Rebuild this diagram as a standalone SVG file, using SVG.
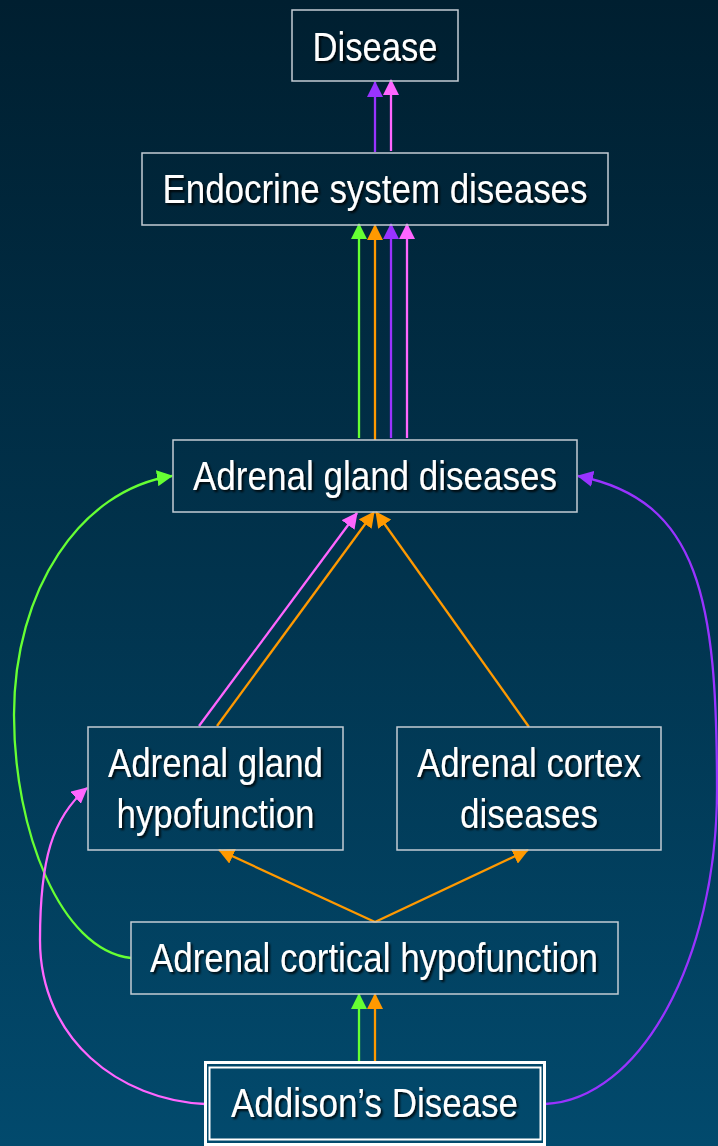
<svg xmlns="http://www.w3.org/2000/svg" width="718" height="1146" viewBox="0 0 718 1146">
<defs>
<linearGradient id="bg" x1="0" y1="0" x2="0" y2="1">
<stop offset="0" stop-color="#001f30"/>
<stop offset="0.5" stop-color="#01334d"/>
<stop offset="1" stop-color="#024a6d"/>
</linearGradient>
<filter id="sh" x="-10%" y="-30%" width="120%" height="160%">
<feDropShadow dx="2" dy="2" stdDeviation="0.8" flood-color="#000" flood-opacity="0.85"/>
</filter>
<marker id="aG" markerUnits="userSpaceOnUse" markerWidth="16" markerHeight="16" viewBox="0 0 16 16" refX="15" refY="8" orient="auto"><path d="M0,0 L16,8 L0,16 z" fill="#66ff33"/></marker>
<marker id="aO" markerUnits="userSpaceOnUse" markerWidth="16" markerHeight="16" viewBox="0 0 16 16" refX="15" refY="8" orient="auto"><path d="M0,0 L16,8 L0,16 z" fill="#ff9900"/></marker>
<marker id="aP" markerUnits="userSpaceOnUse" markerWidth="16" markerHeight="16" viewBox="0 0 16 16" refX="15" refY="8" orient="auto"><path d="M0,0 L16,8 L0,16 z" fill="#9933ff"/></marker>
<marker id="aK" markerUnits="userSpaceOnUse" markerWidth="16" markerHeight="16" viewBox="0 0 16 16" refX="15" refY="8" orient="auto"><path d="M0,0 L16,8 L0,16 z" fill="#ff66ff"/></marker>
</defs>
<style>
.box{fill:none;stroke:#c3ccd4;stroke-width:1.5}
.t{font-family:"Liberation Sans",Arial,sans-serif;font-size:41px;fill:#ffffff;text-anchor:middle;filter:url(#sh)}
.c{fill:none;stroke-width:2.3}
.g{stroke:#66ff33;marker-end:url(#aG)}
.o{stroke:#ff9900;marker-end:url(#aO)}
.p{stroke:#9933ff;marker-end:url(#aP)}
.k{stroke:#ff66ff;marker-end:url(#aK)}
</style>
<rect x="0" y="0" width="718" height="1146" fill="url(#bg)"/>

<g id="connectors">
<line class="c p" x1="375" y1="152" x2="375" y2="82"/>
<line class="c k" x1="391" y1="151" x2="391" y2="80"/>
<line class="c g" x1="359" y1="438" x2="359" y2="224"/>
<line class="c o" x1="375" y1="440" x2="375" y2="225"/>
<line class="c p" x1="391" y1="438" x2="391" y2="224"/>
<line class="c k" x1="407" y1="438" x2="407" y2="224"/>
<line class="c g" x1="359" y1="1061" x2="359" y2="994"/>
<line class="c o" x1="375" y1="1061" x2="375" y2="994"/>
<line class="c o" x1="375" y1="922" x2="219" y2="850"/>
<line class="c o" x1="375" y1="922" x2="528" y2="850"/>
<line class="c k" x1="199" y1="726" x2="357" y2="513"/>
<line class="c o" x1="217" y1="726" x2="374" y2="512"/>
<line class="c o" x1="529" y1="727" x2="376" y2="512"/>
<path class="c g" d="M131,958 C60,950 14,830 14,715 C14,590 80,490 172,476"/>
<path class="c k" d="M205,1104 C120,1100 40,1040 40,940 C40,860 52,818 87,788"/>
<path class="c p" d="M545,1104 C640,1100 717,960 717,790 C717,600 700,500 578,476"/>
</g>

<g id="disease">
<rect class="box" x="292" y="10" width="166" height="71"/>
<text class="t" x="375" y="61" textLength="125" lengthAdjust="spacingAndGlyphs">Disease</text>
</g>
<g id="endocrine">
<rect class="box" x="142" y="153" width="466" height="72"/>
<text class="t" x="375" y="203" textLength="425" lengthAdjust="spacingAndGlyphs">Endocrine system diseases</text>
</g>
<g id="adrenal-gland-diseases">
<rect class="box" x="173" y="440" width="404" height="72"/>
<text class="t" x="375" y="490" textLength="364" lengthAdjust="spacingAndGlyphs">Adrenal gland diseases</text>
</g>
<g id="adrenal-gland-hypofunction">
<rect class="box" x="88" y="727" width="255" height="123"/>
<text class="t" x="215.5" y="777" textLength="215" lengthAdjust="spacingAndGlyphs">Adrenal gland</text>
<text class="t" x="215.5" y="828" textLength="198" lengthAdjust="spacingAndGlyphs">hypofunction</text>
</g>
<g id="adrenal-cortex-diseases">
<rect class="box" x="397" y="727" width="264" height="123"/>
<text class="t" x="529" y="777" textLength="224" lengthAdjust="spacingAndGlyphs">Adrenal cortex</text>
<text class="t" x="529" y="828" textLength="138" lengthAdjust="spacingAndGlyphs">diseases</text>
</g>
<g id="adrenal-cortical-hypofunction">
<rect class="box" x="131" y="922" width="487" height="72"/>
<text class="t" x="374" y="972" textLength="448" lengthAdjust="spacingAndGlyphs">Adrenal cortical hypofunction</text>
</g>
<g id="addisons-disease">
<rect x="205.5" y="1062.5" width="339" height="82" fill="none" stroke="#ffffff" stroke-width="3"/>
<rect x="209.5" y="1067.5" width="331" height="72" fill="none" stroke="#ffffff" stroke-width="2"/>
<text class="t" x="374.5" y="1117" textLength="287" lengthAdjust="spacingAndGlyphs">Addison’s Disease</text>
</g>
</svg>
